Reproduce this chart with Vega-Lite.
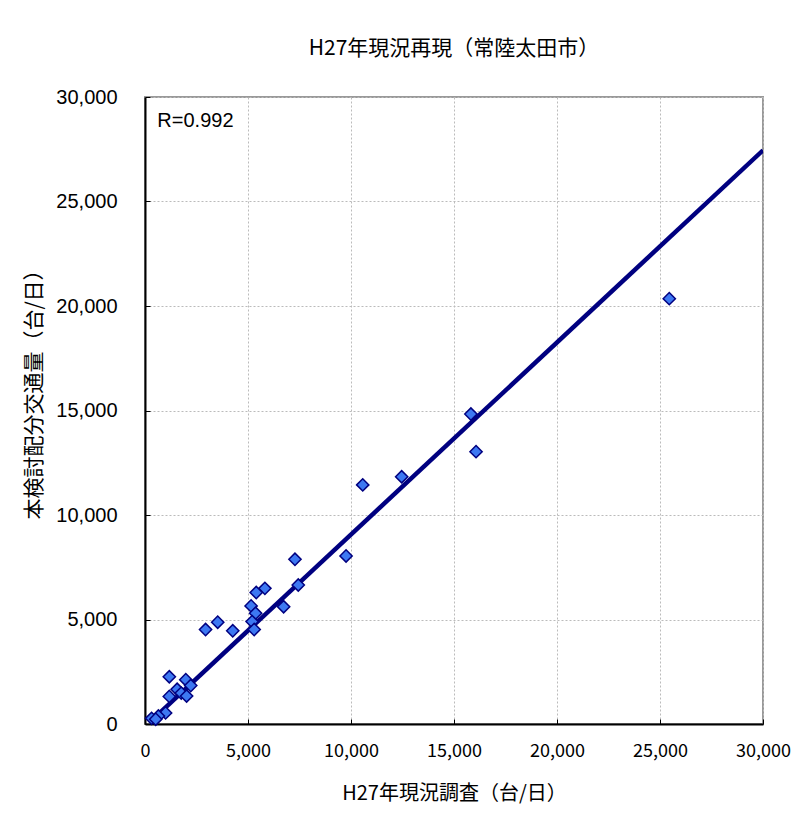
{
  "$schema": "https://vega.github.io/schema/vega-lite/v6.json",
  "autosize": {"type": "none"},
  "padding": {"left": 145, "top": 97, "right": 43, "bottom": 92},
  "width": 618,
  "height": 627,
  "background": "white",
  "title": {
    "text": "H27年現況再現（常陸太田市）",
    "font": "Noto Sans CJK JP",
    "fontSize": 21,
    "fontWeight": "normal",
    "color": "#000000",
    "anchor": "middle",
    "offset": 28
  },
  "datasets": {
    "points": [
      {"survey": 25450, "model": 20350},
      {"survey": 15820, "model": 14830},
      {"survey": 16070, "model": 13030},
      {"survey": 12460, "model": 11830},
      {"survey": 10570, "model": 11440},
      {"survey": 9760, "model": 8040},
      {"survey": 7280, "model": 7880},
      {"survey": 7440, "model": 6650},
      {"survey": 5820, "model": 6490},
      {"survey": 5400, "model": 6290},
      {"survey": 6730, "model": 5610},
      {"survey": 5150, "model": 5650},
      {"survey": 5370, "model": 5300},
      {"survey": 5200, "model": 4900},
      {"survey": 5300, "model": 4520},
      {"survey": 4260, "model": 4460},
      {"survey": 3530, "model": 4870},
      {"survey": 2940, "model": 4520},
      {"survey": 1180, "model": 2260},
      {"survey": 1980, "model": 2120},
      {"survey": 1560, "model": 1660},
      {"survey": 2220, "model": 1840},
      {"survey": 1760, "model": 1480},
      {"survey": 1180, "model": 1320},
      {"survey": 2020, "model": 1340},
      {"survey": 1000, "model": 530},
      {"survey": 650, "model": 380},
      {"survey": 320, "model": 270},
      {"survey": 520, "model": 230}
    ],
    "trend": [
      {"survey": 300, "model": 150},
      {"survey": 30000, "model": 27450}
    ],
    "label": [
      {"survey": 600, "model": 28850, "text": "R=0.992"}
    ]
  },
  "config": {
    "view": {"stroke": "#999999", "strokeWidth": 2},
    "axis": {
      "domainColor": "#000000",
      "domainWidth": 2,
      "gridColor": "#bbbbbb",
      "gridDash": [2, 2],
      "gridWidth": 1,
      "tickColor": "#000000",
      "labelColor": "#000000",
      "titleColor": "#000000",
      "titleFontWeight": "normal"
    }
  },
  "layer": [
    {
      "data": {"name": "trend"},
      "mark": {"type": "line", "color": "#000080", "strokeWidth": 4.5, "clip": true},
      "encoding": {
        "x": {
          "field": "survey", "type": "quantitative",
          "scale": {"domain": [0, 30000], "nice": false, "zero": true},
          "axis": {
            "values": [0, 5000, 10000, 15000, 20000, 25000, 30000],
            "format": ",d",
            "title": "H27年現況調査（台/日）",
            "titleFont": "Noto Sans CJK JP",
            "titleFontSize": 20,
            "titlePadding": 23,
            "labelFont": "Noto Sans CJK JP",
            "labelFontSize": 18,
            "labelPadding": 23,
            "tickSize": -5,
            "labelFlush": false
          }
        },
        "y": {
          "field": "model", "type": "quantitative",
          "scale": {"domain": [0, 30000], "nice": false, "zero": true},
          "axis": {
            "values": [0, 5000, 10000, 15000, 20000, 25000, 30000],
            "format": ",d",
            "title": "本検討配分交通量（台/日）",
            "titleFont": "Noto Sans CJK JP",
            "titleFontSize": 21,
            "titleX": -101,
            "titleY": 292,
            "labelFont": "Liberation Sans",
            "labelFontSize": 20,
            "labelPadding": 33,
            "tickSize": -5,
            "labelFlush": false
          }
        }
      }
    },
    {
      "data": {"name": "points"},
      "mark": {"type": "point", "shape": "diamond", "filled": true, "size": 150, "fill": "#3d78f2", "stroke": "#000080", "strokeWidth": 1.5, "opacity": 1},
      "encoding": {
        "x": {"field": "survey", "type": "quantitative"},
        "y": {"field": "model", "type": "quantitative"}
      }
    },
    {
      "data": {"name": "label"},
      "mark": {"type": "text", "align": "left", "baseline": "middle", "font": "Liberation Sans", "fontSize": 20, "color": "#000000"},
      "encoding": {
        "x": {"field": "survey", "type": "quantitative"},
        "y": {"field": "model", "type": "quantitative"},
        "text": {"field": "text"}
      }
    }
  ]
}
